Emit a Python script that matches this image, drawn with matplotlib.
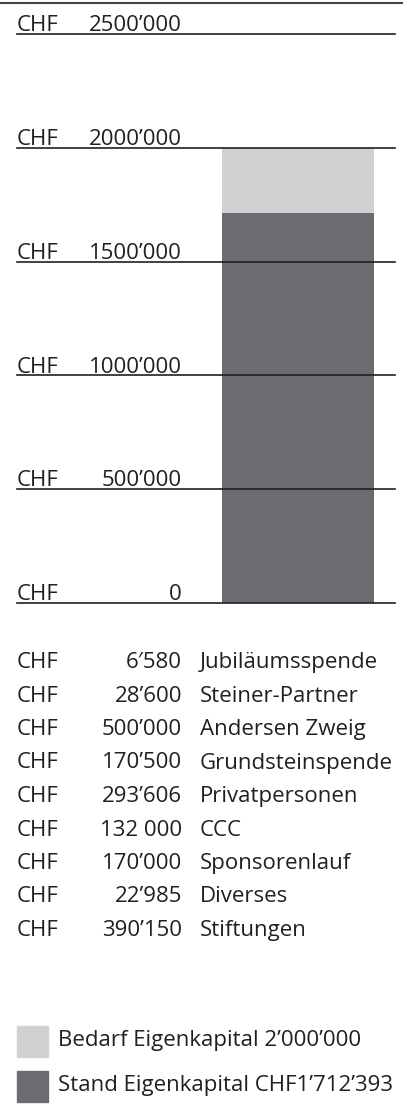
import matplotlib
matplotlib.use('Agg')
import matplotlib.pyplot as plt

plt.rcParams['font.family'] = ['Open Sans', 'DejaVu Sans']
plt.rcParams['font.size'] = 16

# Data
tick_values = [0, 500000, 1000000, 1500000, 2000000, 2500000]
tick_labels = ['0', '500’000', '1000’000', '1500’000', '2000’000', '2500’000']
bedarf = 2000000
stand = 1712393

spenden_betrag = ['6′580', '28’600', '500’000', '170’500', '293’606',
                  '132 000', '170’000', '22’985', '390’150']
spenden_name = ['Jubiläumsspende', 'Steiner-Partner', 'Andersen Zweig',
                'Grundsteinspende', 'Privatpersonen', 'CCC', 'Sponsorenlauf',
                'Diverses', 'Stiftungen']

legend_labels = ['Bedarf Eigenkapital 2’000’000', 'Stand Eigenkapital CHF1’712’393']
col_light = '#d0d1d3'
col_dark = '#6b6c70'
col_text = '#231f20'

W, H = 403, 1115
fig = plt.figure(figsize=(W / 100, H / 100), dpi=100)

# chart area in pixel coords (from top)
x0, x1 = 17, 395
y_zero, y_top = 603, 34
ax = fig.add_axes([x0 / W, (H - y_zero) / H, (x1 - x0) / W, (y_zero - y_top) / H])
ax.set_xlim(0, 1)
ax.set_ylim(0, 2500000)
ax.axis('off')

bx = (222 - x0) / (x1 - x0)
bw = (374 - 222) / (x1 - x0)
ax.bar(bx, stand, width=bw, align='edge', color=col_dark, zorder=1)
ax.bar(bx, bedarf - stand, bottom=stand, width=bw, align='edge', color=col_light, zorder=1)

for v, lab in zip(tick_values, tick_labels):
    ax.axhline(v, color=col_text, lw=1.2, zorder=3, clip_on=False)
    ax.annotate('CHF', (0, v), xytext=(0, 2), textcoords='offset points',
                ha='left', va='baseline', color=col_text)
    ax.annotate(lab, ((182 - x0) / (x1 - x0), v), xytext=(0, 2),
                textcoords='offset points', ha='right', va='baseline', color=col_text)

# top rule
fig.add_artist(plt.Line2D([0, 1], [1 - 3 / H, 1 - 3 / H], color='#444444', lw=1.5))

# donation list
y_first, dy = 668, 33.5
for i, (b, n) in enumerate(zip(spenden_betrag, spenden_name)):
    y = 1 - (y_first + i * dy) / H
    fig.text(17 / W, y, 'CHF', ha='left', va='baseline', color=col_text)
    fig.text(182 / W, y, b, ha='right', va='baseline', color=col_text)
    fig.text(200 / W, y, n, ha='left', va='baseline', color=col_text)

# legend
for i, (lab, c) in enumerate(zip(legend_labels, [col_light, col_dark])):
    top = 1026 + i * 45
    fig.add_artist(plt.Rectangle((17 / W, 1 - (top + 31) / H), 31 / W, 31 / H,
                                 color=c, transform=fig.transFigure))
    fig.text(58 / W, 1 - (top + 20) / H, lab, ha='left', va='baseline', color=col_text)

fig.savefig('out.png', dpi=100)
